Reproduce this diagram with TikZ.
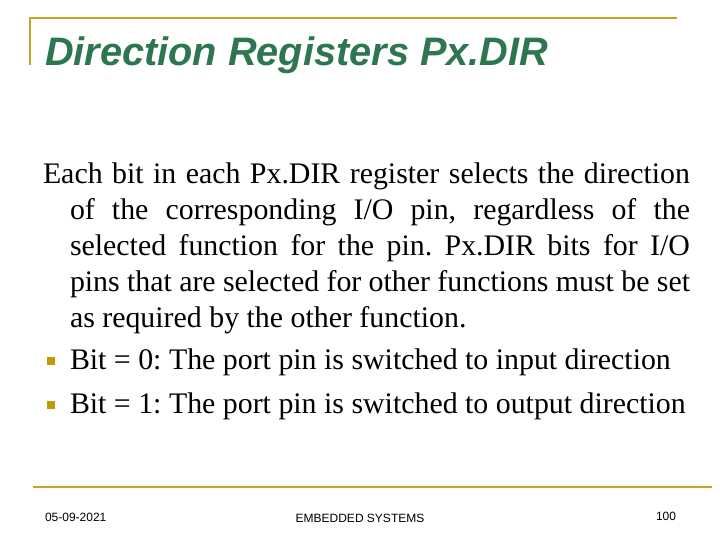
\documentclass[tikz,border=0pt]{standalone}
\usepackage{fontspec}
\setmainfont{Liberation Serif}
\setsansfont{Liberation Sans}
\frenchspacing
\definecolor{rulegold}{HTML}{C9A227}
\definecolor{bulletgold}{HTML}{C49A0A}
\definecolor{titlegreen}{HTML}{2E7650}
\begin{document}
\begin{tikzpicture}[x=0.75pt, y=-0.75pt,
  every node/.style={inner sep=0pt, outer sep=0pt},
  goldrule/.style={draw=rulegold, line width=1.5pt},
  bodytext/.style={font=\fontsize{22.4pt}{27pt}\selectfont, anchor=base west},
  footer/.style={font=\sffamily\fontsize{9pt}{11pt}\selectfont, anchor=base}]
  \useasboundingbox (0,0) rectangle (720,540);
  % Frame rules
  \draw[goldrule] (30,65) -- (30,18) -- (677,18);
  \draw[goldrule] (33,487) -- (712,487);
  % Title
  \node[anchor=base west, text=titlegreen, font=\sffamily\bfseries\itshape\fontsize{29.8pt}{34pt}\selectfont] (title) at (45,65) {Direction Registers Px.DIR};
  % Paragraph
  \node[bodytext] (para) at (43,183) {\parbox[t]{485.25pt}{\frenchspacing\hangindent=20.25pt\hangafter=1
    Each bit in each Px.DIR register selects the direction\linebreak
    of the corresponding I/O pin, regardless of the\linebreak
    selected function for the pin. Px.DIR bits for I/O\linebreak
    pins that are selected for other functions must be set\linebreak
    as required by the other function.}};
  % Bullets
  \foreach \y/\txt [count=\i] in {369/{Bit = 0: The port pin is switched to input direction},
                                  413/{Bit = 1: The port pin is switched to output direction}} {
    \node[fill=bulletgold, minimum size=6.5pt, anchor=center] (bullet\i) at (51,\y-8) {};
    \node[bodytext] (item\i) at (70,\y) {\txt};
  }
  % Footer
  \node[footer, anchor=base west] (date) at (45,521) {05-09-2021};
  \node[footer] (course) at (360,522) {EMBEDDED SYSTEMS};
  \node[footer] (page) at (666,520) {100};
\end{tikzpicture}
\end{document}
